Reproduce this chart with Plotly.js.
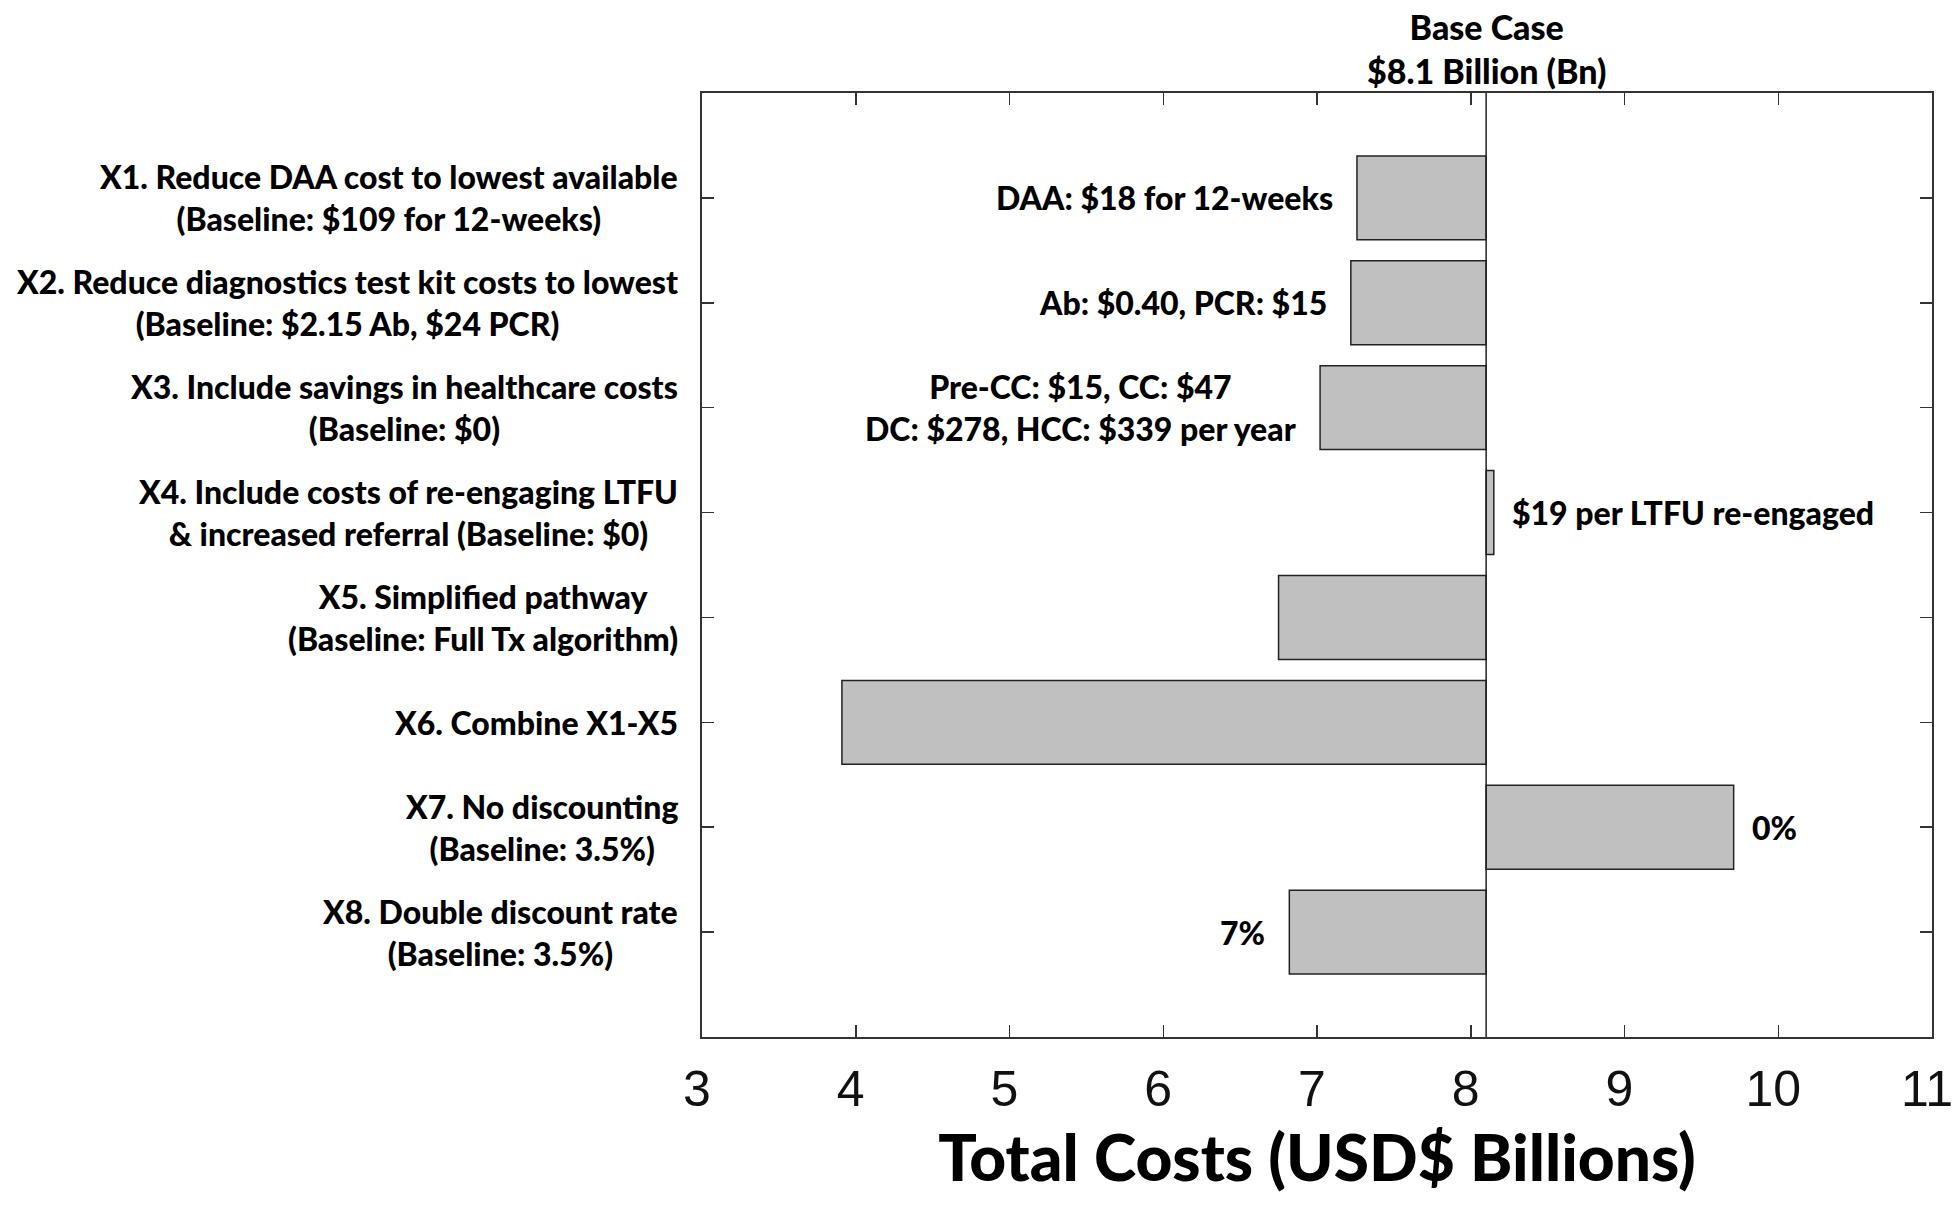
<!DOCTYPE html>
<html>
<head>
<meta charset="utf-8">
<script src="https://cdn.plot.ly/plotly-3.0.1.min.js"></script>
<style>
  html, body { margin: 0; padding: 0; background: #ffffff; }
  #chart { width: 1958px; height: 1206px; }
</style>
</head>
<body>
<div id="chart"></div>
<script>
// ---- data ----
const scenarioIds = ["X1", "X2", "X3", "X4", "X5", "X6", "X7", "X8"];
const scenarioLabels = [
  "X1. Reduce DAA cost to lowest available<br>(Baseline: $109 for 12-weeks)",
  "X2. Reduce diagnostics test kit costs to lowest<br>(Baseline: $2.15 Ab, $24 PCR)",
  "X3. Include savings in healthcare costs<br>(Baseline: $0)",
  "X4. Include costs of re-engaging LTFU<br>& increased referral (Baseline: $0)",
  "X5. Simplified pathway<br>(Baseline: Full Tx algorithm)",
  "X6. Combine X1-X5",
  "X7. No discounting<br>(Baseline: 3.5%)",
  "X8. Double discount rate<br>(Baseline: 3.5%)"
];
const totalCosts = [7.26, 7.22, 7.02, 8.15, 6.75, 3.91, 9.71, 6.82];
const barNotes = [
  "DAA: $18 for 12-weeks",
  "Ab: $0.40, PCR: $15",
  "Pre-CC: $15, CC: $47<br>DC: $278, HCC: $339 per year",
  "$19 per LTFU re-engaged",
  "",
  "",
  "0%",
  "7%"
];
const baseCase = 8.1;
const baseCaseTitle = "Base Case<br>$8.1 Billion (Bn)";
const xTickVals = [3, 4, 5, 6, 7, 8, 9, 10, 11];
const xAxisTitle = "Total Costs (USD$ Billions)";

// ---- styling ----
const fam = "Lato, 'Open Sans', sans-serif";
const labelFont = {family: fam, size: 32, color: "#000", weight: 900};
const axisColor = "#333333";

const trace = {
  type: "bar",
  orientation: "h",
  y: scenarioIds,
  x: totalCosts.map(v => v - baseCase),
  base: scenarioIds.map(() => baseCase),
  width: 0.8,
  marker: {color: "#c0c0c0", line: {color: "#222222", width: 1.5}},
  hoverinfo: "skip"
};

const annotations = [];
scenarioIds.forEach((id, i) => {
  annotations.push({
    xref: "paper", x: 0, xanchor: "right", xshift: -22,
    yref: "y", y: id, yanchor: "middle",
    text: scenarioLabels[i],
    align: "center", showarrow: false, font: labelFont
  });
  if (barNotes[i]) {
    const right = totalCosts[i] > baseCase;
    annotations.push({
      xref: "x", x: totalCosts[i], xanchor: right ? "left" : "right",
      xshift: right ? 16 : -22,
      yref: "y", y: id, yanchor: "middle",
      text: barNotes[i],
      align: "center", showarrow: false, font: labelFont
    });
  }
});
annotations.push({
  xref: "x", x: baseCase, xanchor: "center",
  yref: "paper", y: 1, yanchor: "bottom", yshift: 0,
  text: baseCaseTitle,
  align: "center", showarrow: false,
  font: {family: fam, size: 34, color: "#000", weight: 900}
});

const layout = {
  width: 1958, height: 1206,
  margin: {l: 702, r: 26, t: 93, b: 169, pad: 0},
  paper_bgcolor: "#ffffff", plot_bgcolor: "#ffffff",
  showlegend: false,
  xaxis: {
    range: [3, 11],
    tickvals: xTickVals,
    ticks: "inside", ticklen: 12, tickwidth: 1.5, tickcolor: axisColor,
    showline: true, linecolor: axisColor, linewidth: 2, mirror: "ticks",
    showgrid: false, zeroline: false,
    tickfont: {family: "'Liberation Sans', Arial, sans-serif", size: 50, color: "#111"},
    ticklabelstandoff: 7,
    ticklabelshift: -5,
    ticklabeloverflow: "allow",
    title: {text: xAxisTitle, standoff: 20,
            font: {family: fam, size: 64, color: "#000", weight: 900}}
  },
  yaxis: {
    type: "category",
    categoryorder: "array", categoryarray: scenarioIds,
    range: [8, -1],
    ticks: "inside", ticklen: 12, tickwidth: 1.5, tickcolor: axisColor,
    showline: true, linecolor: axisColor, linewidth: 2, mirror: "ticks",
    showgrid: false, zeroline: false,
    showticklabels: false
  },
  shapes: [{
    type: "line", xref: "x", x0: baseCase, x1: baseCase,
    yref: "paper", y0: 0, y1: 1,
    line: {color: "#222222", width: 1.5}
  }],
  annotations: annotations
};

Plotly.newPlot("chart", [trace], layout, {displayModeBar: false, staticPlot: true});
</script>
</body>
</html>
